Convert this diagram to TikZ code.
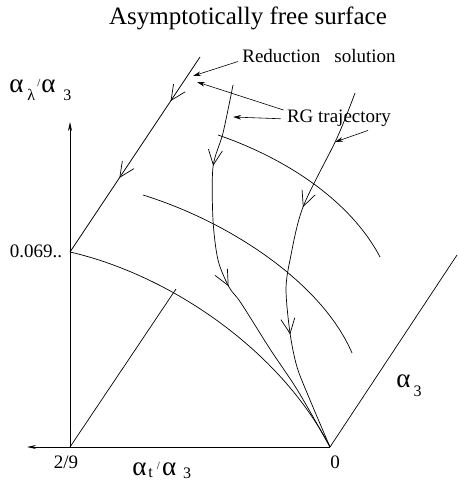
\documentclass[tikz,border=0pt]{standalone}
\usepackage{fontspec}
\setmainfont{Liberation Serif}
\usetikzlibrary{arrows.meta, decorations.markings}

\newcommand{\galpha}{{\fontsize{27}{30}\selectfont α}}
\newcommand{\lowsub}[2][-8pt]{\raisebox{#1}{\fontsize{16}{18}\selectfont #2}}
\newcommand{\upslash}{\raisebox{6pt}{\fontsize{11}{12}\selectfont /}}

\begin{document}
\begin{tikzpicture}[x=1pt, y=-1pt, >=Stealth, line width=0.7pt,
    vtip/.tip={Straight Barb[length=15pt, width=14pt]},
    flow/.style 2 args={postaction={decorate}, decoration={markings,
        mark=at position #1 with {\arrow{vtip}},
        mark=at position #2 with {\arrow{vtip}}}},
    pointer/.style={-{Stealth[length=8pt, width=4.5pt]}, line width=0.6pt},
    axis/.style={-{Stealth[length=9pt, width=4pt]}},
    lab/.style={inner sep=0pt, anchor=base, font=\fontsize{19}{21}\selectfont},
    greek/.style={inner sep=0pt, anchor=base west}]

		\useasboundingbox (0,0) rectangle (458,481);

		% Corner points of the surface
		\coordinate (O) at (330,447);
		\coordinate (P) at (70,447);
		\coordinate (Q) at (70,252);
		\coordinate (R) at (200,57);
		\coordinate (xend) at (27,447);
		\coordinate (yend) at (70,122);
		\coordinate (zend) at (457,255);
		\coordinate (pend) at (176,289);

		% Draw the axes
		\draw[axis, line width=1pt] (O) -- (xend);
		\draw[axis] (P) -- (yend);
		\draw (O) -- (zend);
		\draw (P) -- (pend);

		% Draw the reduction solution
		\draw[flow={0.226}{0.62}] (R) -- (Q);

		% Draw the boundary and the level curves
		\draw (Q) .. controls (170,275) and (280,350) .. (O);
		\draw (143,195) .. controls (230,222) and (322,283) .. (352,353);
		\draw (218,135) .. controls (285,158) and (350,200) .. (380,257);

		% Draw the RG trajectories
		\draw[flow={0.21}{0.52}] plot[smooth] coordinates {(233,85) (223,133) (213,167) (213,220) (218,260) (229,287) (241,303) (270,349) (298,391) (O)};
		\draw[flow={0.335}{0.68}] plot[smooth] coordinates {(355,93) (337,138) (303,207) (290,260) (286,290) (290,333) (297,367) (310,400) (O)};

		% Add the title and the labels
		\node[lab, font=\fontsize{25}{28}\selectfont] (title) at (248,25) {Asymptotically free surface};
		\node[lab] (redlabel) at (319,63) {Reduction\hspace{14pt}solution};
		\node[lab] (rglabel) at (339,123) {RG trajectory};
		\node[lab] (qlabel) at (36,257) {0.069..};
		\node[lab] (plabel) at (66,468) {2/9};
		\node[lab] (olabel) at (335,468) {0};
		\node[greek] (ylabel) at (9,93) {\galpha\hspace{4pt}\lowsub{λ}\hspace{2pt}\upslash\hspace{1pt}\galpha\hspace{8pt}\lowsub{3}};
		\node[greek] (xlabel) at (132,475) {\galpha\hspace{2pt}\lowsub[-2pt]{t}\hspace{4pt}\upslash\hspace{2pt}\galpha\hspace{7pt}\lowsub[-3pt]{3}};
		\node[greek] (zlabel) at (396,387) {\galpha\hspace{3pt}\lowsub[-9pt]{3}};

		% Point the labels at the curves
		\coordinate (redtip) at (193,76);
		\coordinate (rgtipA) at (197,82);
		\coordinate (rgtipB) at (233,117);
		\coordinate (rgtipC) at (335,142);
		\draw[pointer] ([xshift=-4pt, yshift=-5pt]redlabel.west) -- (redtip);
		\draw[pointer] ([xshift=-3pt]rglabel.north west) -- (rgtipA);
		\draw[pointer] ([xshift=-6pt]rglabel.west) -- (rgtipB);
		\draw[pointer] ([xshift=29pt, yshift=-3pt]rglabel.south) -- (rgtipC);

	\end{tikzpicture}
\end{document}
